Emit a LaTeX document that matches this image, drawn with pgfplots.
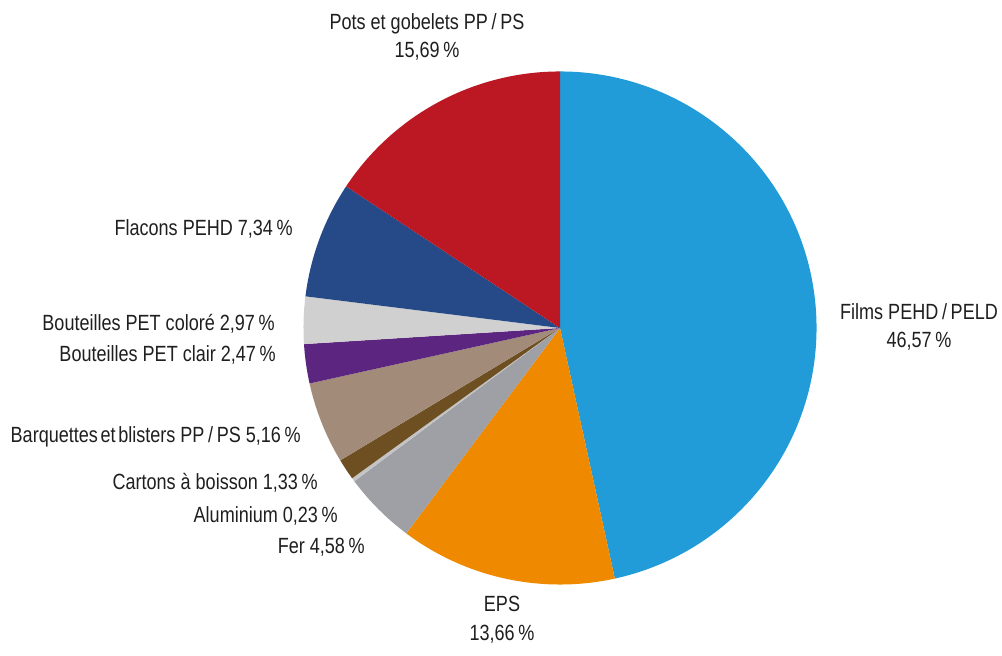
\documentclass[border=0pt]{standalone}
\usepackage{pgfplots}
\pgfplotsset{compat=1.18}
\usepackage{fontspec}
\setmainfont{Liberation Sans}[FakeStretch=0.82]
\definecolor{cFilms}{HTML}{229CD8}
\definecolor{cEPS}{HTML}{EF8A00}
\definecolor{cFer}{HTML}{9EA0A5}
\definecolor{cAlu}{HTML}{C4C4C4}
\definecolor{cCart}{HTML}{6E4F21}
\definecolor{cBarq}{HTML}{A38B7A}
\definecolor{cClair}{HTML}{5C2680}
\definecolor{cColore}{HTML}{D0D0D0}
\definecolor{cFlac}{HTML}{264A87}
\definecolor{cPots}{HTML}{BC1823}
\def\R{192.4pt}
\tikzset{lbl/.style={font=\fontsize{16.5}{21.5}\selectfont, text=black!88, inner sep=0pt}}
\begin{document}
\begin{tikzpicture}
\begin{axis}[
  x=0.75pt, y=0.75pt,
  xmin=0, xmax=1002, ymin=0, ymax=656,
  hide axis, clip=false,
]
\path (axis cs:0,0) rectangle (axis cs:1002,656);
\def\cum{0}
\pgfplotsforeachungrouped \v/\c in {46.57/cFilms,13.66/cEPS,4.58/cFer,0.23/cAlu,1.33/cCart,5.16/cBarq,2.47/cClair,2.97/cColore,7.34/cFlac,15.69/cPots}{
  \pgfmathsetmacro\sa{90-3.6*\cum}
  \pgfmathsetmacro\ea{90-3.6*(\cum+\v)}
  \edef\temp{\noexpand\fill[\c] (axis cs:560,328) -- ++(\sa:\noexpand\R) arc[start angle=\sa, end angle=\ea, radius=\noexpand\R] -- cycle;}
  \temp
  \pgfmathsetmacro\cum{\cum+\v}
}
\node[lbl, align=center, anchor=center] at (axis cs:427,619) {Pots et gobelets PP\,/\,PS\\15,69\,\%};
\node[lbl, align=center, anchor=center] at (axis cs:919,329) {Films PEHD\,/\,PELD\\46,57\,\%};
\node[lbl, align=center, anchor=center] at (axis cs:502,36) {EPS\\13,66\,\%};
\node[lbl, anchor=east] at (axis cs:293,427) {Flacons PEHD 7,34\,\%};
\node[lbl, anchor=east] at (axis cs:275,332) {Bouteilles PET coloré 2,97\,\%};
\node[lbl, anchor=east] at (axis cs:276,301) {Bouteilles PET clair 2,47\,\%};
\node[lbl, anchor=east] at (axis cs:301,219) {Barquettes\hspace{0.12em}et\hspace{0.12em}blisters PP\,/\,PS 5,16\,\%};
\node[lbl, anchor=east] at (axis cs:318,173) {Cartons à boisson 1,33\,\%};
\node[lbl, anchor=east] at (axis cs:338,140) {Aluminium 0,23\,\%};
\node[lbl, anchor=east] at (axis cs:365,109) {Fer 4,58\,\%};
\end{axis}
\end{tikzpicture}
\end{document}
